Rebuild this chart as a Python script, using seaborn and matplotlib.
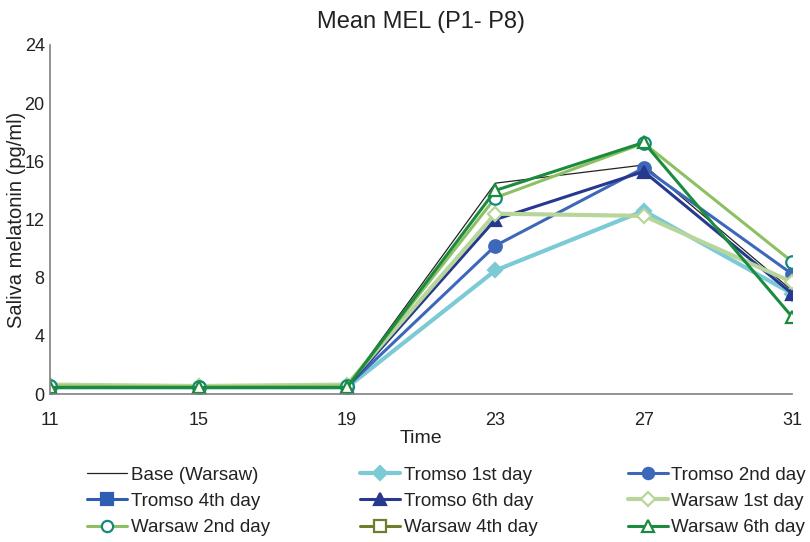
import numpy as np
import pandas as pd
import matplotlib
matplotlib.use("Agg")
import matplotlib.pyplot as plt
from matplotlib.lines import Line2D
import seaborn as sns

sns.set_theme(style="white")
plt.rcParams['font.family'] = ['Liberation Sans', 'DejaVu Sans']

# Dati (ore di prelievo, melatonina salivare pg/ml)
time = [11, 15, 19, 23, 27, 31]
base_warsaw = [0.5, 0.5, 0.5, 14.5, 15.75, 7.1]
tromso_1st = [0.45, 0.45, 0.45, 8.5, 12.6, 6.9]
tromso_2nd = [0.5, 0.5, 0.5, 10.2, 15.55, 8.25]
tromso_4th = [np.nan] * 6
tromso_6th = [0.5, 0.5, 0.5, 12.0, 15.3, 6.9]
warsaw_1st = [0.65, 0.55, 0.65, 12.4, 12.25, 7.7]
warsaw_2nd = [0.55, 0.5, 0.55, 13.5, 17.25, 9.1]
warsaw_4th = [np.nan] * 6
warsaw_6th = [0.45, 0.45, 0.45, 14.0, 17.3, 5.3]

# nome, valori, colore linea, spessore, marker, colore bordo, colore riempimento
series = [
    ('Base (Warsaw)', base_warsaw, '#222222', 0.9, None, None, None),
    ('Tromso 1st day', tromso_1st, '#7ccad6', 3.0, 'D', '#7ccad6', '#7ccad6'),
    ('Tromso 2nd day', tromso_2nd, '#3d68b9', 2.2, 'o', '#3d68b9', '#3d68b9'),
    ('Tromso 4th day', tromso_4th, '#2e5eb4', 2.2, 's', '#2e5eb4', '#2e5eb4'),
    ('Tromso 6th day', tromso_6th, '#27398f', 2.2, '^', '#27398f', '#27398f'),
    ('Warsaw 1st day', warsaw_1st, '#b8d69c', 3.0, 'D', '#b8d69c', 'white'),
    ('Warsaw 2nd day', warsaw_2nd, '#8dc063', 2.2, 'o', '#138a7c', 'white'),
    ('Warsaw 4th day', warsaw_4th, '#6f7d2c', 2.2, 's', '#6f7d2c', 'white'),
    ('Warsaw 6th day', warsaw_6th, '#1b8b3e', 2.2, '^', '#1b8b3e', 'white'),
]

fig = plt.figure(figsize=(8.1, 5.42), dpi=100)
ax = fig.add_axes([0.062, 0.273, 0.916, 0.644])

handles = []
for name, vals, col, lw, mk, mec, mfc in series:
    df = pd.DataFrame({'time': time, 'mel': vals}).dropna()
    msize = 7.5 if mk == 'D' else 9
    if len(df) > 0:
        sns.lineplot(data=df, x='time', y='mel', ax=ax, color=col, linewidth=lw,
                     marker=mk, markersize=msize, markeredgecolor=mec,
                     markerfacecolor=mfc, markeredgewidth=1.6)
    handles.append(Line2D([], [], color=col, linewidth=lw, marker=mk,
                          markersize=msize * 0.9, markeredgecolor=mec,
                          markerfacecolor=mfc, markeredgewidth=1.6, label=name))

ax.set_xlim(11, 31)
ax.set_ylim(0, 24)
ax.set_xticks(time)
ax.set_yticks(range(0, 25, 4))
ax.tick_params(axis='x', which='both', direction='out', length=5, width=1,
               color='#808080', labelsize=13, pad=8, labelcolor='#222222')
ax.tick_params(axis='y', length=0, labelsize=13, pad=4, labelcolor='#222222')
for s in ['top', 'right']:
    ax.spines[s].set_visible(False)
for s in ['left', 'bottom']:
    ax.spines[s].set_color('#808080')
    ax.spines[s].set_linewidth(1.2)
ax.set_title('Mean MEL (P1- P8)', fontsize=17, pad=12, color='#222222')
ax.set_xlabel('Time', fontsize=14, labelpad=1, color='#222222')
ax.set_ylabel('Saliva melatonin (pg/ml)', fontsize=14.5, labelpad=-1, color='#222222')

# legenda riga per riga (matplotlib riempie per colonne)
order = [0, 3, 6, 1, 4, 7, 2, 5, 8]
leg = ax.legend([handles[i] for i in order], [handles[i].get_label() for i in order],
                ncol=3, loc='upper left', bbox_to_anchor=(0.04, -0.186), frameon=False,
                fontsize=13.5, handlelength=2.13, handletextpad=0.2, columnspacing=4.8,
                labelspacing=0.49, borderaxespad=0)
for t in leg.get_texts():
    t.set_color('#222222')

plt.savefig('out.png', dpi=100)
